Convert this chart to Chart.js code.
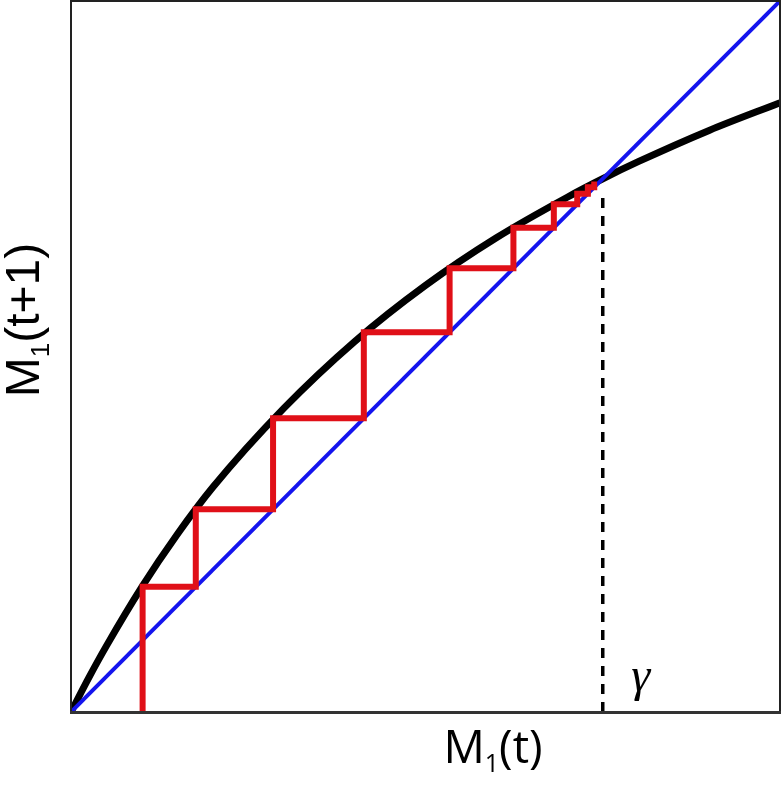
<!DOCTYPE html>
<html>
<head>
<meta charset="utf-8">
<script src="https://cdn.jsdelivr.net/npm/chart.js@4.4.1/dist/chart.umd.min.js"></script>
<style>
  html, body { margin: 0; padding: 0; background: #fff; }
  #wrap { width: 782px; height: 787px; }
</style>
</head>
<body>
<div id="wrap"><canvas id="cobweb" width="782" height="787"></canvas></div>
<script>
// --- Data ---
const curveX = [0, 0.025, 0.05, 0.1, 0.15, 0.2, 0.3, 0.4, 0.5, 0.6, 0.7, 0.75, 0.8, 0.9, 1.0];
const curveY = [0, 0.048, 0.093, 0.176, 0.25, 0.316, 0.427, 0.521, 0.600, 0.667, 0.724, 0.75, 0.774, 0.818, 0.857];
const diagX = [0, 1];
const diagY = [0, 1];
// successive iterates M1(t) of the staircase
const steps = [0.101, 0.176, 0.285, 0.413, 0.534, 0.624, 0.681, 0.714, 0.729, 0.738, 0.742];
const gammaX = 0.75;
const gammaTop = 0.733;

// --- Helpers ---
const toPoints = (xs, ys) => xs.map((x, i) => ({ x: x, y: ys[i] }));
const cobwebPath = s => {
    const pts = [{ x: s[0], y: 0 }];
    for (let i = 0; i < s.length - 1; i++) {
        pts.push({ x: s[i], y: s[i + 1] });
        pts.push({ x: s[i + 1], y: s[i + 1] });
    }
    return pts;
};

// draw "M" with a lowered "1" and a trailing string, centred at (cx, cy)
const drawLabel = (ctx, rest, cx, cy, size, family) => {
    const big = size + 'px ' + family;
    const small = Math.round(size * 0.55) + 'px ' + family;
    ctx.font = big;
    const wM = ctx.measureText('M').width;
    const wR = ctx.measureText(rest).width;
    ctx.font = small;
    const w1 = ctx.measureText('1').width;
    const total = wM + w1 + wR;
    let x = cx - total / 2;
    ctx.textBaseline = 'alphabetic';
    ctx.textAlign = 'left';
    const base = cy + size * 0.36;
    ctx.font = big;
    ctx.fillText('M', x, base);
    x += wM;
    ctx.font = small;
    ctx.fillText('1', x, base + size * 0.2);
    x += w1;
    ctx.font = big;
    ctx.fillText(rest, x, base);
};

const decorPlugin = {
    id: 'decor',
    afterDraw(chart) {
        const { ctx, chartArea: a } = chart;
        ctx.save();
        // frame
        ctx.strokeStyle = '#222';
        ctx.lineWidth = 2;
        ctx.beginPath();
        ctx.moveTo(a.left, a.bottom);
        ctx.lineTo(a.left, a.top);
        ctx.lineTo(a.right, a.top);
        ctx.lineTo(a.right, a.bottom);
        ctx.stroke();
        ctx.strokeStyle = '#333';
        ctx.lineWidth = 3;
        ctx.beginPath();
        ctx.moveTo(a.left - 1, a.bottom + 0.5);
        ctx.lineTo(a.right + 1, a.bottom + 0.5);
        ctx.stroke();

        ctx.fillStyle = '#000';
        // x label
        drawLabel(ctx, '(t)', 493, a.bottom + 34, 46, '"Open Sans", sans-serif');
        // y label
        ctx.save();
        ctx.translate(22, 320);
        ctx.rotate(-Math.PI / 2);
        drawLabel(ctx, '(t+1)', 0, 0, 48, '"Liberation Sans", Arial, sans-serif');
        ctx.restore();

        // gamma label
        const xs = chart.scales.x;
        ctx.font = 'italic 48px "Liberation Serif", "DejaVu Serif", serif';
        ctx.textAlign = 'center';
        ctx.textBaseline = 'alphabetic';
        ctx.fillText('γ', xs.getPixelForValue(gammaX) + 38, a.bottom - 21);
        ctx.restore();
    }
};

const ctx = document.getElementById('cobweb').getContext('2d');
new Chart(ctx, {
    type: 'scatter',
    data: {
        datasets: [
            {
                label: 'Map',
                data: toPoints(curveX, curveY),
                borderColor: '#000',
                borderWidth: 7,
                pointRadius: 0,
                showLine: true,
                cubicInterpolationMode: 'monotone',
                order: 4
            },
            {
                label: 'Diagonal',
                data: toPoints(diagX, diagY),
                borderColor: '#1414ee',
                borderWidth: 4,
                pointRadius: 0,
                showLine: true,
                order: 3
            },
            {
                label: 'Fixed point',
                data: [{ x: gammaX, y: 0 }, { x: gammaX, y: gammaTop }],
                borderColor: '#000',
                borderWidth: 3.5,
                borderDash: [10, 8],
                pointRadius: 0,
                showLine: true,
                order: 2
            },
            {
                label: 'Cobweb',
                data: cobwebPath(steps),
                borderColor: '#e01018',
                borderWidth: 6,
                borderJoinStyle: 'miter',
                pointRadius: 0,
                showLine: true,
                order: 1
            }
        ]
    },
    options: {
        responsive: false,
        animation: false,
        layout: { padding: { left: 71, right: 2, top: 1, bottom: 75 } },
        plugins: {
            legend: { display: false },
            tooltip: { enabled: false }
        },
        scales: {
            x: { type: 'linear', min: 0, max: 1, display: false },
            y: { type: 'linear', min: 0, max: 1, display: false }
        }
    },
    plugins: [decorPlugin]
});
</script>
</body>
</html>
